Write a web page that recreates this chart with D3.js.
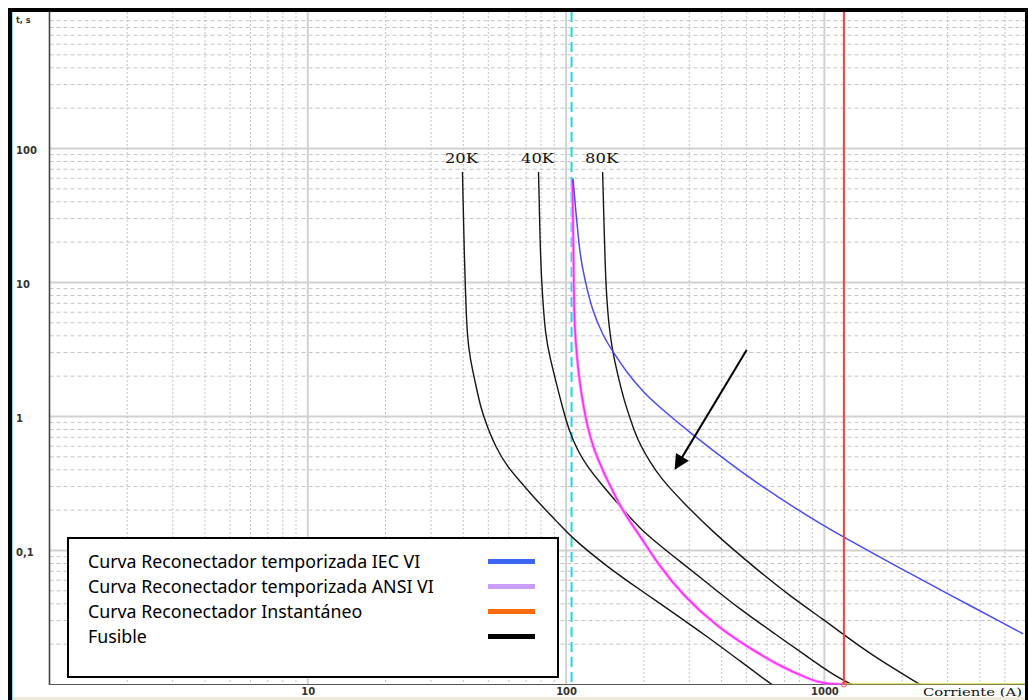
<!DOCTYPE html>
<html>
<head>
<meta charset="utf-8">
<script src="https://cdnjs.cloudflare.com/ajax/libs/d3/7.8.5/d3.min.js"></script>
<style>
  html, body { margin: 0; padding: 0; background: #fff; overflow: hidden; }
  svg        { display: block; }
  .tick-label  { font-family: 'DejaVu Sans', sans-serif; font-size: 10px; font-weight: bold; fill: #333; }
  .serif-label { font-family: 'DejaVu Serif', serif; fill: #111; }
  .legend-text { font-family: 'Noto Sans', sans-serif; font-size: 17.8px; fill: #000; }
</style>
</head>
<body>
<svg id="chart" width="1028" height="700"></svg>
<script>

// Fuse curves, [ current (A), time (s) ].
const fuse20K = [
  [39.7,66.8],[40.4,14.7],[40.8,8.35],[41.4,3.94],[42.6,2.64],[44.3,1.87],[46.6,1.18],[49.5,0.84],
  [53.3,0.595],[59.2,0.422],[66.6,0.326],[79.6,0.219],[92.4,0.164],[104,0.127],[144,0.0757],
  [194,0.0507],[262,0.034],[353,0.0227],[475,0.0148],[630,0.0099]
];
const fuse40K = [
  [78.2,66.8],[79.6,14.7],[80.9,8.31],[83.2,3.94],[87.1,2.64],[91,1.87],[96.7,1.18],[102.5,0.793],
  [110.5,0.562],[120.9,0.422],[136,0.317],[162.7,0.212],[194.5,0.142],[262,0.0899],[353,0.0569],
  [475,0.036],[639,0.0241],[861,0.0161],[1060,0.0121],[1286,0.0099]
];
const fuse80K = [
  [138.5,66.8],[141.4,14.7],[143.2,8.31],[146.5,4.68],[151.1,3.13],[157.9,2.10],[167.5,1.33],
  [177.8,0.942],[188.8,0.668],[212.6,0.447],[233,0.346],[277.8,0.238],[374,0.1344],[551,0.0715],
  [742,0.0452],[998,0.0303],[1193,0.0234],[1560,0.0161],[2366,0.0099]
];
const fuseNames = [ '20K', '40K', '80K' ];

// Recloser curves.
const iecVI = [
  [106.3,59.9],[108.7,36.6],[111.7,20.8],[114.2,14.7],[118.4,10.4],[126,6.23],[139.6,3.94],
  [150.5,3.13],[172.1,2.11],[200.3,1.5],[233,1.15],[304,0.749],[421,0.4615],[567,0.3045],
  [799,0.198],[998,0.1528],[1176,0.1274],[1560,0.0941],[2102,0.0688],[2786,0.0513],[5881,0.0239]
];
const ansiVI = [
  [105.7,58.2],[107,14.7],[107.2,6.23],[108.9,3.52],[112.1,1.98],[115.6,1.33],[120.9,0.839],
  [128.2,0.562],[140.1,0.377],[153.2,0.267],[167.5,0.1895],[194.5,0.1267],[225.7,0.0802],
  [286,0.0452],[385.5,0.027],[504,0.0191],[678,0.0136],[861,0.0111],[998,0.0101],[1190,0.0100]
];
const instantPickup  = 1190;   // A, instantaneous element
const instantTime    = 0.01;   // s
const pickupCurrent  = 105;    // A, time element pickup
const currentMax     = 5900;

// Arrow annotation, [ current, time ].
const arrowFrom = [ 500, 3.13 ];
const arrowTo   = [ 265, 0.41 ];

// Axes.
const xTickValues = [ 10, 100, 1000 ];
const xTickLabels = [ '10', '100', '1000' ];
const yTickValues = [ 0.1, 1, 10, 100 ];
const yTickLabels = [ '0,1', '1', '10', '100' ];
const xAxisTitle  = 'Corriente (A)';
const yAxisTitle  = 't, s';

const legendLabels = [
  'Curva Reconectador temporizada IEC VI',
  'Curva Reconectador temporizada ANSI VI',
  'Curva Reconectador Instantáneo',
  'Fusible'
];


// Builds the time-current coordination chart.
class ChartBuilder {

  constructor ( ) {
    this.plot   = { left: 49.5, right: 1023.5, top: 14.5, bottom: 684.5 };
    this.chart  = d3.select( '#chart' );
    this.defs   = this.chart.append( 'defs' );
    this.and    = this;
  }

  // Log scales on both axes.
  setScales ( ) {
    this.x = d3.scaleLog( )
      .domain( [ 1, currentMax ] )
      .range( [ this.plot.left, this.plot.right ] );
    this.y = d3.scaleLog( )
      .domain( [ 0.01, 1000 ] )
      .range( [ this.plot.bottom, this.plot.top ] );
    this.line = d3.line( )
      .x( d => this.x( d[ 0 ] ) )
      .y( d => this.y( d[ 1 ] ) )
      .curve( d3.curveBasis );
    return this;
  }

  // Major and minor grid lines.
  drawGrid ( ) {
    const isMajor = v => Math.abs( Math.log10( v ) - Math.round( Math.log10( v ) ) ) < 1e-9;
    const grid    = this.chart.append( 'g' ).attr( 'class', 'grid' );

    grid.selectAll( 'line.h' )
      .data( this.y.ticks( ).filter( v => v > 0.011 && v < 999 ) )
      .enter( ).append( 'line' )
        .attr( 'x1'              , this.plot.left )
        .attr( 'x2'              , 1025 )
        .attr( 'y1'              , d => this.y( d ) )
        .attr( 'y2'              , d => this.y( d ) )
        .attr( 'stroke'          , d => isMajor( d ) ? '#d2d2d2' : '#c4c4c4' )
        .attr( 'stroke-width'    , d => isMajor( d ) ? 2 : 1 )
        .attr( 'stroke-dasharray', d => isMajor( d ) ? null : '4,3' );

    grid.selectAll( 'line.v' )
      .data( this.x.ticks( ).filter( v => v > 1.01 ) )
      .enter( ).append( 'line' )
        .attr( 'x1'              , d => this.x( d ) )
        .attr( 'x2'              , d => this.x( d ) )
        .attr( 'y1'              , 12 )
        .attr( 'y2'              , this.plot.bottom )
        .attr( 'stroke'          , d => isMajor( d ) ? '#d2d2d2' : '#c4c4c4' )
        .attr( 'stroke-width'    , d => isMajor( d ) ? 2 : 1 )
        .attr( 'stroke-dasharray', d => isMajor( d ) ? null : '2,2' );
    return this;
  }

  // Axis lines, tick labels and titles.
  drawAxes ( ) {
    const xAxis = d3.axisBottom( this.x )
      .tickValues( xTickValues )
      .tickFormat( ( d, i ) => xTickLabels[ i ] )
      .tickSize( 0 );
    const yAxis = d3.axisLeft( this.y )
      .tickValues( yTickValues )
      .tickFormat( ( d, i ) => yTickLabels[ i ] )
      .tickSize( 0 );

    const gx = this.chart.append( 'g' )
      .attr( 'transform', `translate( 0, ${this.plot.bottom} )` )
      .call( xAxis );
    gx.select( '.domain' ).remove( );
    gx.selectAll( 'text' )
      .attr( 'class', 'tick-label' )
      .attr( 'y'    , 10.5 )
      .attr( 'dy'   , null );

    const gy = this.chart.append( 'g' )
      .attr( 'transform', 'translate( 16, 0 )' )
      .call( yAxis );
    gy.select( '.domain' ).remove( );
    gy.selectAll( 'text' )
      .attr( 'class'      , 'tick-label' )
      .attr( 'x'          , 0 )
      .attr( 'dy'         , 5 )
      .attr( 'text-anchor', 'start' );

    this.chart.append( 'text' )
      .attr( 'class', 'tick-label' )
      .attr( 'x'    , 16 )
      .attr( 'y'    , 23 )
      .style( 'font-size', '8px' )
      .text( yAxisTitle );

    this.chart.append( 'text' )
      .attr( 'class'       , 'serif-label' )
      .attr( 'x'           , 923 )
      .attr( 'y'           , 696 )
      .attr( 'textLength'  , 99 )
      .attr( 'lengthAdjust', 'spacingAndGlyphs' )
      .style( 'font-size'  , '10.5px' )
      .text( xAxisTitle );

    // axis lines
    this.chart.append( 'line' )
      .attr( 'x1', this.plot.left ).attr( 'x2', this.plot.left )
      .attr( 'y1', 12 ).attr( 'y2', this.plot.bottom + 0.5 )
      .attr( 'stroke', '#444' ).attr( 'stroke-width', 1.6 );
    this.chart.append( 'line' )
      .attr( 'x1', this.plot.left ).attr( 'x2', 1025 )
      .attr( 'y1', this.plot.bottom ).attr( 'y2', this.plot.bottom )
      .attr( 'stroke', '#555' ).attr( 'stroke-width', 1.2 );
    return this;
  }

  // Draws fuse and recloser curves.
  drawCurves ( ) {
    this.defs.append( 'clipPath' ).attr( 'id', 'plot-clip' )
      .append( 'rect' )
        .attr( 'x'     , this.plot.left )
        .attr( 'y'     , 12 )
        .attr( 'width' , 1025 - this.plot.left )
        .attr( 'height', this.plot.bottom - 12 );
    const g = this.chart.append( 'g' ).attr( 'clip-path', 'url(#plot-clip)' );

    // pickup, dashed cyan
    g.append( 'line' )
      .attr( 'x1'              , this.x( pickupCurrent ) )
      .attr( 'x2'              , this.x( pickupCurrent ) )
      .attr( 'y1'              , 12 )
      .attr( 'y2'              , this.plot.bottom )
      .attr( 'stroke'          , '#19dbe8' )
      .attr( 'stroke-width'    , 2 )
      .attr( 'stroke-dasharray', '10,5' );

    // fuses
    const fuses = [ fuse20K, fuse40K, fuse80K ];
    g.selectAll( 'path.fuse' )
      .data( fuses )
      .enter( ).append( 'path' )
        .attr( 'class'       , 'fuse' )
        .attr( 'd'           , this.line )
        .attr( 'fill'        , 'none' )
        .attr( 'stroke'      , '#161616' )
        .attr( 'stroke-width', 1.4 );

    this.chart.selectAll( 'text.fuse-name' )
      .data( fuses )
      .enter( ).append( 'text' )
        .attr( 'class'       , 'serif-label' )
        .attr( 'x'           , d => this.x( d[ 0 ][ 0 ] ) - 1 )
        .attr( 'y'           , d => this.y( d[ 0 ][ 1 ] ) - 9 )
        .attr( 'text-anchor' , 'middle' )
        .attr( 'textLength'  , 33 )
        .attr( 'lengthAdjust', 'spacingAndGlyphs' )
        .style( 'font-size'  , '13px' )
        .text( ( d, i ) => fuseNames[ i ] );

    // ANSI VI, magenta with a soft halo
    g.append( 'path' )
      .attr( 'd'           , this.line( ansiVI ) )
      .attr( 'fill'        , 'none' )
      .attr( 'stroke'      , '#ffa6ff' )
      .attr( 'stroke-width', 3.2 );
    g.append( 'path' )
      .attr( 'd'           , this.line( ansiVI ) )
      .attr( 'fill'        , 'none' )
      .attr( 'stroke'      , '#ff2bff' )
      .attr( 'stroke-width', 1.6 );

    // IEC VI, blue
    g.append( 'path' )
      .attr( 'd'           , this.line( iecVI ) )
      .attr( 'fill'        , 'none' )
      .attr( 'stroke'      , '#4a4cf2' )
      .attr( 'stroke-width', 1.5 );

    // instantaneous element
    g.append( 'line' )
      .attr( 'x1'          , this.x( instantPickup ) )
      .attr( 'x2'          , this.x( currentMax ) + 2 )
      .attr( 'y1'          , this.y( instantTime ) - 0.5 )
      .attr( 'y2'          , this.y( instantTime ) - 0.5 )
      .attr( 'stroke'      , '#d6d24a' )
      .attr( 'stroke-width', 1.6 );
    g.append( 'line' )
      .attr( 'x1'          , this.x( instantPickup ) )
      .attr( 'x2'          , this.x( instantPickup ) )
      .attr( 'y1'          , 12 )
      .attr( 'y2'          , this.plot.bottom )
      .attr( 'stroke'      , '#ff3a3a' )
      .attr( 'stroke-width', 2 );
    this.chart.append( 'circle' )
      .attr( 'cx'          , this.x( instantPickup ) )
      .attr( 'cy'          , this.plot.bottom )
      .attr( 'r'           , 2.5 )
      .attr( 'fill'        , 'none' )
      .attr( 'stroke'      , '#ff5a3a' )
      .attr( 'stroke-width', 1 );
    return this;
  }

  // Black arrow pointing at the curves.
  drawArrow ( ) {
    this.defs.append( 'marker' )
      .attr( 'id'          , 'arrow-head' )
      .attr( 'viewBox'     , '0 0 10 10' )
      .attr( 'refX'        , 9 )
      .attr( 'refY'        , 5 )
      .attr( 'markerUnits' , 'userSpaceOnUse' )
      .attr( 'markerWidth' , 19 )
      .attr( 'markerHeight', 15 )
      .attr( 'orient'      , 'auto' )
      .append( 'path' )
        .attr( 'd'   , 'M0,0 L10,5 L0,10 z' )
        .attr( 'fill', '#000' );
    this.chart.append( 'line' )
      .attr( 'x1'          , this.x( arrowFrom[ 0 ] ) )
      .attr( 'y1'          , this.y( arrowFrom[ 1 ] ) )
      .attr( 'x2'          , this.x( arrowTo[ 0 ] ) )
      .attr( 'y2'          , this.y( arrowTo[ 1 ] ) )
      .attr( 'stroke'      , '#000' )
      .attr( 'stroke-width', 2 )
      .attr( 'marker-end'  , 'url(#arrow-head)' );
    return this;
  }

  // Legend box in the lower left.
  drawLegend ( ) {
    const colors = [ '#3d66f2', '#cc9cfa', '#ff6a0a', '#000000' ];
    const g      = this.chart.append( 'g' ).attr( 'transform', 'translate( 68, 538 )' );
    g.append( 'rect' )
      .attr( 'width'       , 490 )
      .attr( 'height'      , 139 )
      .attr( 'fill'        , '#fff' )
      .attr( 'stroke'      , '#000' )
      .attr( 'stroke-width', 2 );
    const rows = g.selectAll( 'g.row' )
      .data( legendLabels )
      .enter( ).append( 'g' )
        .attr( 'transform', ( d, i ) => `translate( 0, ${i * 25} )` );
    rows.append( 'text' )
      .attr( 'class', 'legend-text' )
      .attr( 'x'    , 20 )
      .attr( 'y'    , 30 )
      .text( d => d );
    rows.append( 'rect' )
      .attr( 'x'     , 420 )
      .attr( 'y'     , 21 )
      .attr( 'width' , 47 )
      .attr( 'height', 5 )
      .attr( 'fill'  , ( d, i ) => colors[ i ] );
    return this;
  }

  // Black border round the picture.
  drawFrame ( ) {
    this.chart.append( 'rect' )
      .attr( 'x', 12 ).attr( 'y', 697 ).attr( 'width', 1013 ).attr( 'height', 3 )
      .attr( 'fill', '#ece9d8' );
    this.chart.append( 'line' )
      .attr( 'x1', 12.5 ).attr( 'x2', 12.5 ).attr( 'y1', 12 ).attr( 'y2', 700 )
      .attr( 'stroke', '#8fd6f0' ).attr( 'stroke-width', 1 );
    this.chart.append( 'path' )
      .attr( 'd'           , 'M10,700 V10 H1027 V700' )
      .attr( 'fill'        , 'none' )
      .attr( 'stroke'      , '#000' )
      .attr( 'stroke-width', 4 );
    return this;
  }

}

const getTheChart = new ChartBuilder( );
getTheChart.setScales( ).drawGrid( ).drawAxes( ).drawCurves( ).drawArrow( ).drawLegend( ).and.drawFrame( );

</script>
</body>
</html>
